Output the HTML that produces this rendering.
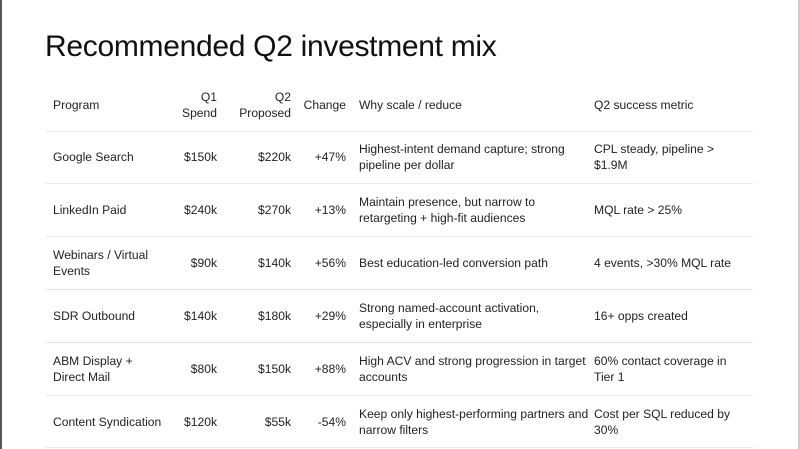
<!DOCTYPE html>
<html><head><style>
html,body{margin:0;padding:0;background:#fff;}
body{width:800px;height:449px;position:relative;overflow:hidden;font-family:"Liberation Sans",sans-serif;color:#222;}
.lb{position:absolute;left:0;top:0;width:2px;height:449px;background:#555;}
.rb{position:absolute;right:0;top:0;width:2px;height:449px;background:#ccc;}
h1{position:absolute;left:45px;top:30px;margin:0;font-weight:normal;font-size:30px;color:#111;letter-spacing:-0.3px;}
.t{position:absolute;font-size:12.1px;line-height:16px;white-space:nowrap;}
.r{text-align:right;}
.hl{position:absolute;left:46px;width:707px;height:1px;background:#e6e6e6;}
</style></head><body>
<div class="lb"></div><div class="rb"></div>
<h1>Recommended Q2 investment mix</h1>

<div class="t" style="left:53px;top:97px">Program</div>
<div class="t r" style="left:150px;width:67px;top:89px">Q1<br>Spend</div>
<div class="t r" style="left:220px;width:71px;top:89px">Q2<br>Proposed</div>
<div class="t r" style="left:296px;width:50px;top:97px">Change</div>
<div class="t" style="left:359px;top:97px">Why scale / reduce</div>
<div class="t" style="left:594px;top:97px">Q2 success metric</div>
<div class="hl" style="top:131px"></div>

<div class="t" style="left:53px;top:149px">Google Search</div>
<div class="t r" style="left:150px;width:67px;top:149px">$150k</div>
<div class="t r" style="left:220px;width:71px;top:149px">$220k</div>
<div class="t r" style="left:296px;width:50px;top:149px">+47%</div>
<div class="t" style="left:359px;top:141px">Highest-intent demand capture; strong<br>pipeline per dollar</div>
<div class="t" style="left:594px;top:141px">CPL steady, pipeline &gt;<br>$1.9M</div>
<div class="hl" style="top:183px"></div>

<div class="t" style="left:53px;top:202px">LinkedIn Paid</div>
<div class="t r" style="left:150px;width:67px;top:202px">$240k</div>
<div class="t r" style="left:220px;width:71px;top:202px">$270k</div>
<div class="t r" style="left:296px;width:50px;top:202px">+13%</div>
<div class="t" style="left:359px;top:194px">Maintain presence, but narrow to<br>retargeting + high-fit audiences</div>
<div class="t" style="left:594px;top:202px">MQL rate &gt; 25%</div>
<div class="hl" style="top:236px"></div>

<div class="t" style="left:53px;top:247px">Webinars / Virtual<br>Events</div>
<div class="t r" style="left:150px;width:67px;top:255px">$90k</div>
<div class="t r" style="left:220px;width:71px;top:255px">$140k</div>
<div class="t r" style="left:296px;width:50px;top:255px">+56%</div>
<div class="t" style="left:359px;top:255px">Best education-led conversion path</div>
<div class="t" style="left:594px;top:255px">4 events, &gt;30% MQL rate</div>
<div class="hl" style="top:289px"></div>

<div class="t" style="left:53px;top:308px">SDR Outbound</div>
<div class="t r" style="left:150px;width:67px;top:308px">$140k</div>
<div class="t r" style="left:220px;width:71px;top:308px">$180k</div>
<div class="t r" style="left:296px;width:50px;top:308px">+29%</div>
<div class="t" style="left:359px;top:300px">Strong named-account activation,<br>especially in enterprise</div>
<div class="t" style="left:594px;top:308px">16+ opps created</div>
<div class="hl" style="top:342px"></div>

<div class="t" style="left:53px;top:353px">ABM Display +<br>Direct Mail</div>
<div class="t r" style="left:150px;width:67px;top:361px">$80k</div>
<div class="t r" style="left:220px;width:71px;top:361px">$150k</div>
<div class="t r" style="left:296px;width:50px;top:361px">+88%</div>
<div class="t" style="left:359px;top:353px">High ACV and strong progression in target<br>accounts</div>
<div class="t" style="left:594px;top:353px">60% contact coverage in<br>Tier 1</div>
<div class="hl" style="top:395px"></div>

<div class="t" style="left:53px;top:414px">Content Syndication</div>
<div class="t r" style="left:150px;width:67px;top:414px">$120k</div>
<div class="t r" style="left:220px;width:71px;top:414px">$55k</div>
<div class="t r" style="left:296px;width:50px;top:414px">-54%</div>
<div class="t" style="left:359px;top:406px">Keep only highest-performing partners and<br>narrow filters</div>
<div class="t" style="left:594px;top:406px">Cost per SQL reduced by<br>30%</div>
<div class="hl" style="top:447px"></div>
</body></html>
